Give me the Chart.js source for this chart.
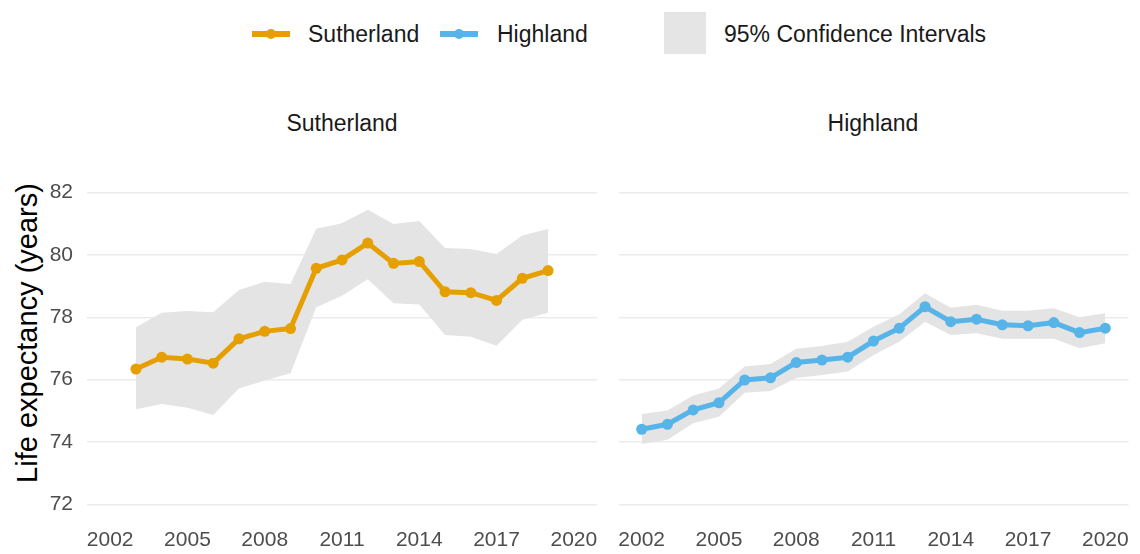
<!DOCTYPE html>
<html>
<head>
<meta charset="utf-8">
<title>Life expectancy</title>
<script src="https://cdn.jsdelivr.net/npm/chart.js@4.4.1/dist/chart.umd.min.js"></script>
<style>
  body { margin: 0; background: #fff; font-family: "Liberation Sans", Arial, sans-serif; }
  #wrap { position: relative; width: 1140px; height: 554px; overflow: hidden; }
  .lg { position: absolute; font-size: 23px; color: #1a1a1a; line-height: 1; }
  .sym { position: absolute; height: 6px; width: 38px; }
  .dot { position: absolute; width: 10px; height: 10px; border-radius: 50%; top: -2px; left: 14px; }
  .facet { position: absolute; top: 112px; font-size: 23px; line-height: 1; color: #1a1a1a; width: 510px; text-align: center; }
  #ytitle { position: absolute; left: 27px; top: 333px; width: 400px; margin-left: -200px; margin-top: -16px;
            text-align: center; font-size: 29px; line-height: 32px; color: #000; transform: rotate(-90deg); }
  canvas { position: absolute; }
</style>
</head>
<body>
<div id="wrap">
  <!-- legend -->
  <div class="sym" style="left:252px;top:31px;background:#E69F00"><div class="dot" style="background:#E69F00"></div></div>
  <div class="lg" style="left:308px;top:23px">Sutherland</div>
  <div class="sym" style="left:440px;top:31px;background:#56B4E9"><div class="dot" style="background:#56B4E9"></div></div>
  <div class="lg" style="left:497px;top:23px">Highland</div>
  <div style="position:absolute;left:664px;top:12px;width:42px;height:42px;background:#e5e5e5"></div>
  <div class="lg" style="left:724px;top:23px">95% Confidence Intervals</div>

  <div class="facet" style="left:87px">Sutherland</div>
  <div class="facet" style="left:618px">Highland</div>
  <div id="ytitle">Life expectancy (years)</div>

  <canvas id="sutherlandChart" style="left:0;top:160px" width="610" height="394"></canvas>
  <canvas id="highlandChart" style="left:610px;top:160px" width="530" height="394"></canvas>
</div>

<script>
// x axis tick labels
const xTicks = [2002, 2005, 2008, 2011, 2014, 2017, 2020]
const yTicks = [72, 74, 76, 78, 80, 82]

// Sutherland (2003 - 2019)
const sutherlandYears = [2003, 2004, 2005, 2006, 2007, 2008, 2009, 2010, 2011, 2012, 2013, 2014, 2015, 2016, 2017, 2018, 2019]
const sutherlandLE    = [76.34, 76.72, 76.66, 76.53, 77.31, 77.55, 77.64, 79.57, 79.84, 80.38, 79.73, 79.79, 78.82, 78.79, 78.54, 79.25, 79.50]
const sutherlandUpper = [77.68, 78.15, 78.20, 78.16, 78.88, 79.14, 79.07, 80.84, 81.02, 81.45, 80.99, 81.09, 80.22, 80.19, 80.03, 80.62, 80.83]
const sutherlandLower = [75.05, 75.22, 75.10, 74.87, 75.72, 75.97, 76.21, 78.32, 78.69, 79.22, 78.45, 78.41, 77.43, 77.38, 77.09, 77.92, 78.15]

// Highland (2002 - 2020)
const highlandYears = [2002, 2003, 2004, 2005, 2006, 2007, 2008, 2009, 2010, 2011, 2012, 2013, 2014, 2015, 2016, 2017, 2018, 2019, 2020]
const highlandLE    = [74.41, 74.57, 75.03, 75.26, 75.99, 76.06, 76.55, 76.63, 76.72, 77.24, 77.65, 78.34, 77.86, 77.94, 77.76, 77.73, 77.83, 77.51, 77.65]
const highlandUpper = [74.90, 75.01, 75.49, 75.72, 76.42, 76.50, 76.99, 77.08, 77.22, 77.70, 78.10, 78.77, 78.31, 78.40, 78.21, 78.21, 78.29, 78.00, 78.13]
const highlandLower = [73.94, 74.07, 74.60, 74.81, 75.58, 75.64, 76.05, 76.15, 76.26, 76.79, 77.22, 77.86, 77.43, 77.49, 77.31, 77.31, 77.31, 77.01, 77.17]

function toPoints(years, vals) {
    return years.map((yr, i) => ({ x: yr, y: vals[i] }))
}

// drop the extra label padding so both panels get the same plot area
function noPad(axis) {
    axis.paddingTop = 0
    axis.paddingBottom = 0
    axis.paddingLeft = 0
    axis.paddingRight = 0
}

function makeChart(id, years, le, upper, lower, colour, showY, yAxisWidth, padRight) {
    var ctx = document.getElementById(id).getContext('2d')
    return new Chart(ctx, {
        type: 'line',
        data: {
            datasets: [
                {
                    // life expectancy line, drawn on top
                    data: toPoints(years, le),
                    borderColor: colour,
                    backgroundColor: colour,
                    borderWidth: 5,
                    pointRadius: 5.5,
                    pointBorderWidth: 0,
                    fill: false,
                    order: 0,
                },
                {
                    // upper CI, filled down to the lower CI
                    data: toPoints(years, upper),
                    borderWidth: 0,
                    pointRadius: 0,
                    backgroundColor: '#e4e4e4',
                    fill: '+1',
                    order: 1,
                },
                {
                    data: toPoints(years, lower),
                    borderWidth: 0,
                    pointRadius: 0,
                    fill: false,
                    order: 2,
                },
            ]
        },
        options: {
            responsive: false,
            animation: false,
            events: [],
            layout: { padding: { top: 17, right: padRight, left: 0, bottom: 0 } },
            plugins: { legend: { display: false }, tooltip: { enabled: false }, title: { display: false } },
            scales: {
                x: {
                    type: 'linear',
                    min: 2001.1,
                    max: 2020.9,
                    afterBuildTicks: (axis) => { axis.ticks = xTicks.map(v => ({ value: v })) },
                    afterFit: (axis) => { axis.height = 34; noPad(axis) },
                    grid: { display: false, drawTicks: false },
                    border: { display: false },
                    ticks: {
                        color: '#4d4d4d',
                        font: { family: 'Liberation Sans', size: 21 },
                        padding: 8,
                        maxRotation: 0,
                        autoSkip: false,
                        callback: (v) => String(v),
                    },
                },
                y: {
                    min: 71.5,
                    max: 82.5,
                    afterBuildTicks: (axis) => { axis.ticks = yTicks.map(v => ({ value: v })) },
                    afterFit: (axis) => { axis.width = yAxisWidth; noPad(axis) },
                    grid: { color: '#ebebeb', lineWidth: 1.6, drawTicks: false },
                    border: { display: false },
                    ticks: {
                        display: showY,
                        color: '#4d4d4d',
                        font: { family: 'Liberation Sans', size: 21 },
                        padding: 14,
                    },
                },
            },
        },
    })
}

makeChart('sutherlandChart', sutherlandYears, sutherlandLE, sutherlandUpper, sutherlandLower, '#E69F00', true, 87, 13)
makeChart('highlandChart', highlandYears, highlandLE, highlandUpper, highlandLower, '#56B4E9', false, 8.5, 11.5)
</script>
</body>
</html>
